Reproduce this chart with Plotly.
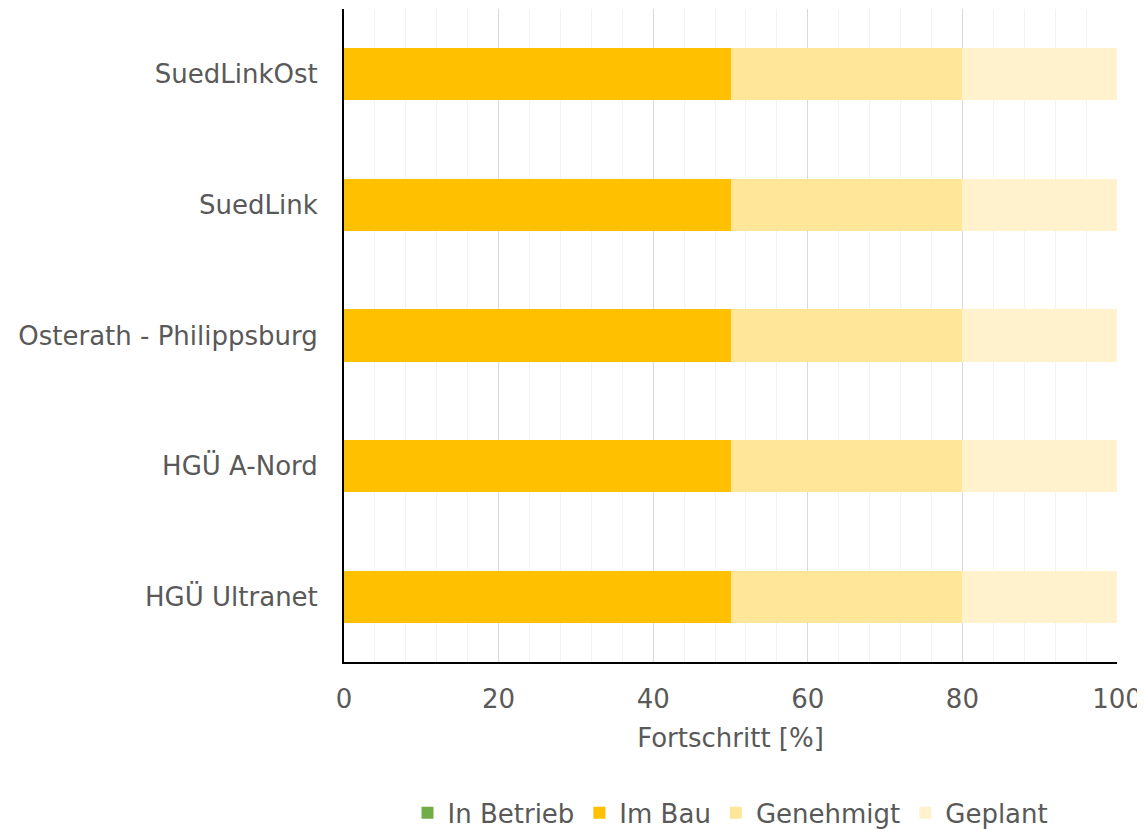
import plotly.graph_objects as go

categories = ["SuedLinkOst", "SuedLink", "Osterath - Philippsburg", "HGÜ A-Nord", "HGÜ Ultranet"]
in_betrieb = [0, 0, 0, 0, 0]
im_bau = [50, 50, 50, 50, 50]
genehmigt = [30, 30, 30, 30, 30]
geplant = [20, 20, 20, 20, 20]

series = [
    ("In Betrieb", in_betrieb, "#70AD47"),
    ("Im Bau", im_bau, "#FFC000"),
    ("Genehmigt", genehmigt, "#FFE699"),
    ("Geplant", geplant, "#FFF2CC"),
]

fig = go.Figure()
for name, vals, col in series:
    fig.add_trace(go.Bar(
        y=categories, x=vals, name=name, orientation="h",
        marker=dict(color=col, line=dict(width=0)),
    ))

font_family = "DejaVu Sans"
fs = 26
fig.update_layout(
    barmode="stack",
    bargap=0.6,
    width=1137, height=821,
    margin=dict(l=336, r=28, t=1, b=167, pad=0, autoexpand=False),
    plot_bgcolor="white", paper_bgcolor="white",
    font=dict(family=font_family, size=fs, color="#595959"),
    showlegend=True,
    legend=dict(orientation="h", x=0.5, xanchor="center", y=-0.231, yanchor="middle",
                traceorder="normal", font=dict(size=fs, color="#595959"),
                itemwidth=30),
    xaxis=dict(
        range=[0, 100], dtick=20, tick0=0, automargin=False,
        showgrid=True, gridcolor="#D9D9D9", gridwidth=1,
        minor=dict(dtick=4, showgrid=True, gridcolor="#F2F2F2", gridwidth=1),
        showline=True, linecolor="black", linewidth=2,
        ticks="", ticklabelstandoff=13,
        title=dict(text="Fortschritt [%]", standoff=16, font=dict(size=fs, color="#595959")),
        zeroline=False,
    ),
    yaxis=dict(
        categoryorder="array", categoryarray=categories, autorange="reversed",
        automargin=False,
        showline=True, linecolor="black", linewidth=2,
        showgrid=False, ticks="", ticklabelstandoff=19,
    ),
)

fig.write_html("out.html")
